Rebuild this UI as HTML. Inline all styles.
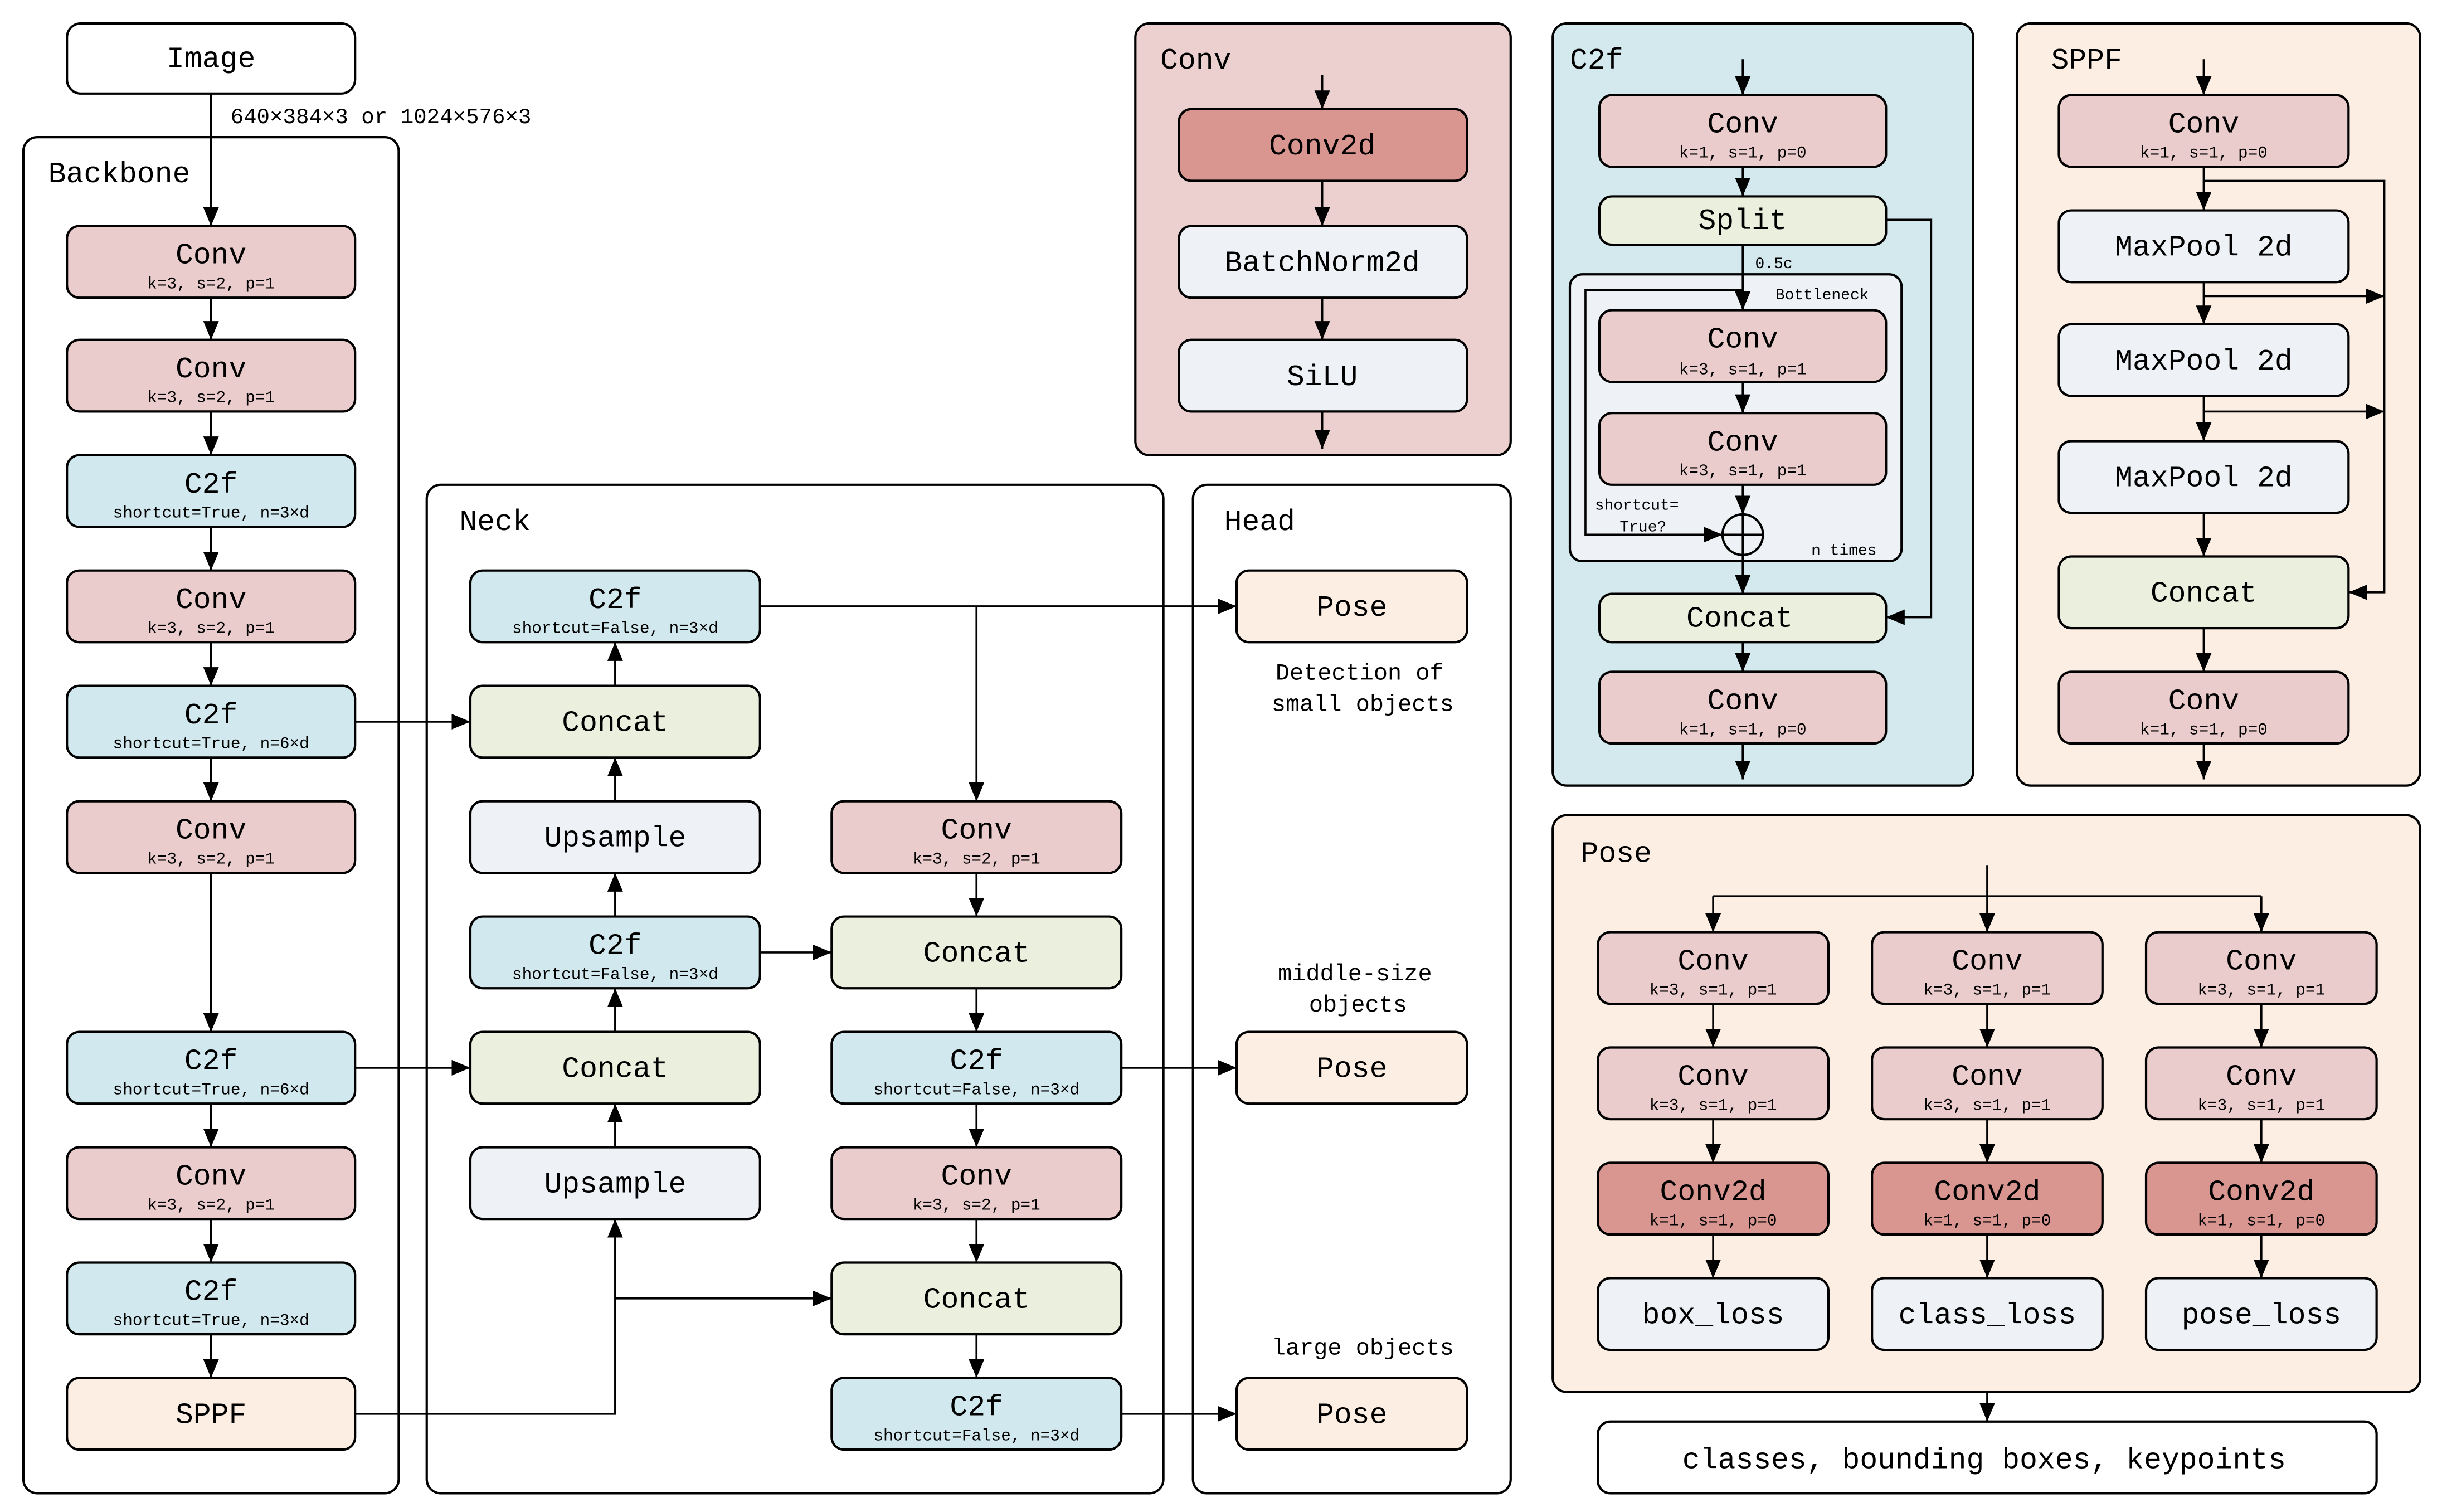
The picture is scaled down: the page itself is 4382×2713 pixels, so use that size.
<!DOCTYPE html>
<html><head><meta charset="utf-8"><style>
html,body{margin:0;padding:0;background:#fff}
svg{display:block}
text{font-family:"Liberation Mono","DejaVu Sans Mono",monospace;fill:#000}
.m{font-size:19px;text-anchor:middle}
.s{font-size:10.5px;text-anchor:middle}
.t{font-size:19px}
.l{font-size:15px;text-anchor:middle}
.n{stroke:#000;stroke-width:1.5}
.w{stroke:#000;stroke-width:1.3;fill:none}
</style></head><body>
<svg width="4382" height="2713" viewBox="0 0 1568 970" preserveAspectRatio="none" xmlns="http://www.w3.org/2000/svg">
<defs><marker id="a" markerUnits="userSpaceOnUse" markerWidth="12" markerHeight="12" viewBox="0 0 12 12" refX="12" refY="6" orient="auto"><path d="M0,1 L12,6 L0,11 Z" fill="#000"/></marker></defs>

<!-- panels -->
<rect x="15" y="88" width="241" height="870" rx="9" fill="#fff" class="n"/>
<rect x="274" y="311" width="473" height="647" rx="9" fill="#fff" class="n"/>
<rect x="766" y="311" width="204" height="647" rx="9" fill="#fff" class="n"/>
<rect x="729" y="15" width="241" height="277" rx="9" fill="#ecd0d0" class="n"/>
<rect x="997" y="15" width="270" height="489" rx="9" fill="#d3e9ee" class="n"/>
<rect x="1295" y="15" width="259" height="489" rx="9" fill="#fdeee3" class="n"/>
<rect x="997" y="523" width="557" height="370" rx="9" fill="#fdeee3" class="n"/>
<text class="t" x="31" y="117">Backbone</text>
<text class="t" x="295" y="340">Neck</text>
<text class="t" x="786" y="340">Head</text>
<text class="t" x="745" y="44">Conv</text>
<text class="t" x="1008" y="44">C2f</text>
<text class="t" x="1317" y="44">SPPF</text>
<text class="t" x="1015" y="553">Pose</text>

<!-- Image -->
<rect x="43" y="15" width="185" height="45" rx="9" fill="#fff" class="n"/>
<text class="m" x="135.5" y="43">Image</text>
<text x="148" y="79" style="font-size:14px">640×384×3 or 1024×576×3</text>

<!-- Backbone nodes -->
<g class="n">
<rect x="43" y="145" width="185" height="46" rx="8" fill="#ebcccc"/>
<rect x="43" y="218" width="185" height="46" rx="8" fill="#ebcccc"/>
<rect x="43" y="292" width="185" height="46" rx="8" fill="#d1e9ee"/>
<rect x="43" y="366" width="185" height="46" rx="8" fill="#ebcccc"/>
<rect x="43" y="440" width="185" height="46" rx="8" fill="#d1e9ee"/>
<rect x="43" y="514" width="185" height="46" rx="8" fill="#ebcccc"/>
<rect x="43" y="662" width="185" height="46" rx="8" fill="#d1e9ee"/>
<rect x="43" y="736" width="185" height="46" rx="8" fill="#ebcccc"/>
<rect x="43" y="810" width="185" height="46" rx="8" fill="#d1e9ee"/>
<rect x="43" y="884" width="185" height="46" rx="8" fill="#fdeee3"/>
</g>
<text class="m" x="135.5" y="169">Conv</text><text class="s" x="135.5" y="185">k=3, s=2, p=1</text>
<text class="m" x="135.5" y="242">Conv</text><text class="s" x="135.5" y="258">k=3, s=2, p=1</text>
<text class="m" x="135.5" y="316">C2f</text><text class="s" x="135.5" y="332">shortcut=True, n=3×d</text>
<text class="m" x="135.5" y="390">Conv</text><text class="s" x="135.5" y="406">k=3, s=2, p=1</text>
<text class="m" x="135.5" y="464">C2f</text><text class="s" x="135.5" y="480">shortcut=True, n=6×d</text>
<text class="m" x="135.5" y="538">Conv</text><text class="s" x="135.5" y="554">k=3, s=2, p=1</text>
<text class="m" x="135.5" y="686">C2f</text><text class="s" x="135.5" y="702">shortcut=True, n=6×d</text>
<text class="m" x="135.5" y="760">Conv</text><text class="s" x="135.5" y="776">k=3, s=2, p=1</text>
<text class="m" x="135.5" y="834">C2f</text><text class="s" x="135.5" y="850">shortcut=True, n=3×d</text>
<text class="m" x="135.5" y="913">SPPF</text>
<g class="w" marker-end="url(#a)">
<path d="M135.5,60 V145"/><path d="M135.5,191 V218"/><path d="M135.5,264 V292"/><path d="M135.5,338 V366"/>
<path d="M135.5,412 V440"/><path d="M135.5,486 V514"/><path d="M135.5,560 V662"/><path d="M135.5,708 V736"/>
<path d="M135.5,782 V810"/><path d="M135.5,856 V884"/>
<path d="M228,463 H302"/><path d="M228,685 H302"/>
<path d="M228,907 H395 V782"/><path d="M395,833 H534"/>
</g>

<!-- Neck -->
<g class="n">
<rect x="302" y="366" width="186" height="46" rx="8" fill="#d1e9ee"/>
<rect x="302" y="440" width="186" height="46" rx="8" fill="#ebefde"/>
<rect x="302" y="514" width="186" height="46" rx="8" fill="#eef1f6"/>
<rect x="302" y="588" width="186" height="46" rx="8" fill="#d1e9ee"/>
<rect x="302" y="662" width="186" height="46" rx="8" fill="#ebefde"/>
<rect x="302" y="736" width="186" height="46" rx="8" fill="#eef1f6"/>
<rect x="534" y="514" width="186" height="46" rx="8" fill="#ebcccc"/>
<rect x="534" y="588" width="186" height="46" rx="8" fill="#ebefde"/>
<rect x="534" y="662" width="186" height="46" rx="8" fill="#d1e9ee"/>
<rect x="534" y="736" width="186" height="46" rx="8" fill="#ebcccc"/>
<rect x="534" y="810" width="186" height="46" rx="8" fill="#ebefde"/>
<rect x="534" y="884" width="186" height="46" rx="8" fill="#d1e9ee"/>
<rect x="794" y="366" width="148" height="46" rx="8" fill="#fdeee3"/>
<rect x="794" y="662" width="148" height="46" rx="8" fill="#fdeee3"/>
<rect x="794" y="884" width="148" height="46" rx="8" fill="#fdeee3"/>
</g>
<text class="m" x="395" y="390">C2f</text><text class="s" x="395" y="406">shortcut=False, n=3×d</text>
<text class="m" x="395" y="469">Concat</text>
<text class="m" x="395" y="543">Upsample</text>
<text class="m" x="395" y="612">C2f</text><text class="s" x="395" y="628">shortcut=False, n=3×d</text>
<text class="m" x="395" y="691">Concat</text>
<text class="m" x="395" y="765">Upsample</text>
<text class="m" x="627" y="538">Conv</text><text class="s" x="627" y="554">k=3, s=2, p=1</text>
<text class="m" x="627" y="617">Concat</text>
<text class="m" x="627" y="686">C2f</text><text class="s" x="627" y="702">shortcut=False, n=3×d</text>
<text class="m" x="627" y="760">Conv</text><text class="s" x="627" y="776">k=3, s=2, p=1</text>
<text class="m" x="627" y="839">Concat</text>
<text class="m" x="627" y="908">C2f</text><text class="s" x="627" y="924">shortcut=False, n=3×d</text>
<text class="m" x="868" y="395">Pose</text>
<text class="m" x="868" y="691">Pose</text>
<text class="m" x="868" y="913">Pose</text>
<text class="l" x="873" y="436">Detection of</text>
<text class="l" x="875" y="456">small objects</text>
<text class="l" x="870" y="629">middle-size</text>
<text class="l" x="872" y="649">objects</text>
<text class="l" x="875" y="869">large objects</text>
<g class="w" marker-end="url(#a)">
<path d="M395,736 V708"/><path d="M395,662 V634"/><path d="M395,588 V560"/><path d="M395,514 V486"/><path d="M395,440 V412"/>
<path d="M488,389 H794"/><path d="M627,389 V514"/>
<path d="M488,611 H534"/>
<path d="M627,560 V588"/><path d="M627,634 V662"/><path d="M627,708 V736"/><path d="M627,782 V810"/><path d="M627,856 V884"/>
<path d="M720,685 H794"/><path d="M720,907 H794"/>
</g>

<!-- Conv panel -->
<g class="n">
<rect x="757" y="70" width="185" height="46" rx="8" fill="#d9958f"/>
<rect x="757" y="145" width="185" height="46" rx="8" fill="#eef1f6"/>
<rect x="757" y="218" width="185" height="46" rx="8" fill="#eef1f6"/>
</g>
<text class="m" x="849" y="99">Conv2d</text>
<text class="m" x="849" y="174">BatchNorm2d</text>
<text class="m" x="849" y="247">SiLU</text>
<g class="w" marker-end="url(#a)">
<path d="M849,48 V70"/><path d="M849,116 V145"/><path d="M849,191 V218"/><path d="M849,264 V288"/>
</g>

<!-- C2f panel -->
<rect x="1008" y="176" width="213" height="184" rx="8" fill="#eef1f6" class="n"/>
<g class="n">
<rect x="1027" y="61" width="184" height="46" rx="8" fill="#ebcccc"/>
<rect x="1027" y="126" width="184" height="31" rx="8" fill="#ebefde"/>
<rect x="1027" y="199" width="184" height="46" rx="8" fill="#ebcccc"/>
<rect x="1027" y="265" width="184" height="46" rx="8" fill="#ebcccc"/>
<rect x="1027" y="381" width="184" height="31" rx="8" fill="#ebefde"/>
<rect x="1027" y="431" width="184" height="46" rx="8" fill="#ebcccc"/>
<circle cx="1119" cy="343" r="13" fill="#eef1f6"/>
</g>
<path d="M1106,343 H1132 M1119,330 V356" class="w"/>
<text class="m" x="1119" y="85">Conv</text><text class="s" x="1119" y="101">k=1, s=1, p=0</text>
<text class="m" x="1119" y="147">Split</text>
<text class="m" x="1119" y="223">Conv</text><text class="s" x="1119" y="240">k=3, s=1, p=1</text>
<text class="m" x="1119" y="289">Conv</text><text class="s" x="1119" y="305">k=3, s=1, p=1</text>
<text class="m" x="1117" y="402">Concat</text>
<text class="m" x="1119" y="455">Conv</text><text class="s" x="1119" y="471">k=1, s=1, p=0</text>
<text x="1127" y="172" style="font-size:10px">0.5c</text>
<text x="1140" y="192" style="font-size:10px">Bottleneck</text>
<text x="1024" y="327" style="font-size:10px">shortcut=</text>
<text x="1040" y="341" style="font-size:10px">True?</text>
<text x="1163" y="356" style="font-size:10px">n times</text>
<g class="w" marker-end="url(#a)">
<path d="M1119,38 V61"/><path d="M1119,107 V126"/><path d="M1119,157 V199"/><path d="M1119,245 V265"/><path d="M1119,311 V330"/>
<path d="M1119,186 H1018 V343 H1106"/>
<path d="M1119,356 V381"/><path d="M1119,412 V431"/><path d="M1119,477 V500"/>
<path d="M1211,141 H1240 V396 H1211"/>
</g>

<!-- SPPF panel -->
<g class="n">
<rect x="1322" y="61" width="186" height="46" rx="8" fill="#ebcccc"/>
<rect x="1322" y="135" width="186" height="46" rx="8" fill="#eef1f6"/>
<rect x="1322" y="208" width="186" height="46" rx="8" fill="#eef1f6"/>
<rect x="1322" y="283" width="186" height="46" rx="8" fill="#eef1f6"/>
<rect x="1322" y="357" width="186" height="46" rx="8" fill="#ebefde"/>
<rect x="1322" y="431" width="186" height="46" rx="8" fill="#ebcccc"/>
</g>
<text class="m" x="1415" y="85">Conv</text><text class="s" x="1415" y="101">k=1, s=1, p=0</text>
<text class="m" x="1415" y="164">MaxPool 2d</text>
<text class="m" x="1415" y="237">MaxPool 2d</text>
<text class="m" x="1415" y="312">MaxPool 2d</text>
<text class="m" x="1415" y="386">Concat</text>
<text class="m" x="1415" y="455">Conv</text><text class="s" x="1415" y="471">k=1, s=1, p=0</text>
<g class="w" marker-end="url(#a)">
<path d="M1415,38 V61"/><path d="M1415,107 V135"/><path d="M1415,181 V208"/><path d="M1415,254 V283"/><path d="M1415,329 V357"/><path d="M1415,403 V431"/><path d="M1415,477 V500"/>
<path d="M1415,116 H1531 V380 H1508"/>
<path d="M1415,190 H1531"/><path d="M1415,264 H1531"/>
</g>

<!-- Pose panel -->
<g class="n">
<rect x="1026" y="598" width="148" height="46" rx="8" fill="#ebcccc"/>
<rect x="1202" y="598" width="148" height="46" rx="8" fill="#ebcccc"/>
<rect x="1378" y="598" width="148" height="46" rx="8" fill="#ebcccc"/>
<rect x="1026" y="672" width="148" height="46" rx="8" fill="#ebcccc"/>
<rect x="1202" y="672" width="148" height="46" rx="8" fill="#ebcccc"/>
<rect x="1378" y="672" width="148" height="46" rx="8" fill="#ebcccc"/>
<rect x="1026" y="746" width="148" height="46" rx="8" fill="#d9958f"/>
<rect x="1202" y="746" width="148" height="46" rx="8" fill="#d9958f"/>
<rect x="1378" y="746" width="148" height="46" rx="8" fill="#d9958f"/>
<rect x="1026" y="820" width="148" height="46" rx="8" fill="#eef1f6"/>
<rect x="1202" y="820" width="148" height="46" rx="8" fill="#eef1f6"/>
<rect x="1378" y="820" width="148" height="46" rx="8" fill="#eef1f6"/>
<rect x="1026" y="912" width="500" height="46" rx="8" fill="#fff"/>
</g>
<g>
<text class="m" x="1100" y="622">Conv</text><text class="s" x="1100" y="638">k=3, s=1, p=1</text>
<text class="m" x="1276" y="622">Conv</text><text class="s" x="1276" y="638">k=3, s=1, p=1</text>
<text class="m" x="1452" y="622">Conv</text><text class="s" x="1452" y="638">k=3, s=1, p=1</text>
<text class="m" x="1100" y="696">Conv</text><text class="s" x="1100" y="712">k=3, s=1, p=1</text>
<text class="m" x="1276" y="696">Conv</text><text class="s" x="1276" y="712">k=3, s=1, p=1</text>
<text class="m" x="1452" y="696">Conv</text><text class="s" x="1452" y="712">k=3, s=1, p=1</text>
<text class="m" x="1100" y="770">Conv2d</text><text class="s" x="1100" y="786">k=1, s=1, p=0</text>
<text class="m" x="1276" y="770">Conv2d</text><text class="s" x="1276" y="786">k=1, s=1, p=0</text>
<text class="m" x="1452" y="770">Conv2d</text><text class="s" x="1452" y="786">k=1, s=1, p=0</text>
<text class="m" x="1100" y="849">box_loss</text>
<text class="m" x="1276" y="849">class_loss</text>
<text class="m" x="1452" y="849">pose_loss</text>
<text class="m" x="1274" y="942">classes, bounding boxes, keypoints</text>
</g>
<path d="M1100,575 H1452" class="w"/>
<g class="w" marker-end="url(#a)">
<path d="M1276,555 V598"/><path d="M1100,575 V598"/><path d="M1452,575 V598"/>
<path d="M1100,644 V672"/><path d="M1276,644 V672"/><path d="M1452,644 V672"/>
<path d="M1100,718 V746"/><path d="M1276,718 V746"/><path d="M1452,718 V746"/>
<path d="M1100,792 V820"/><path d="M1276,792 V820"/><path d="M1452,792 V820"/>
<path d="M1276,893 V912"/>
</g>
</svg>
</body></html>
